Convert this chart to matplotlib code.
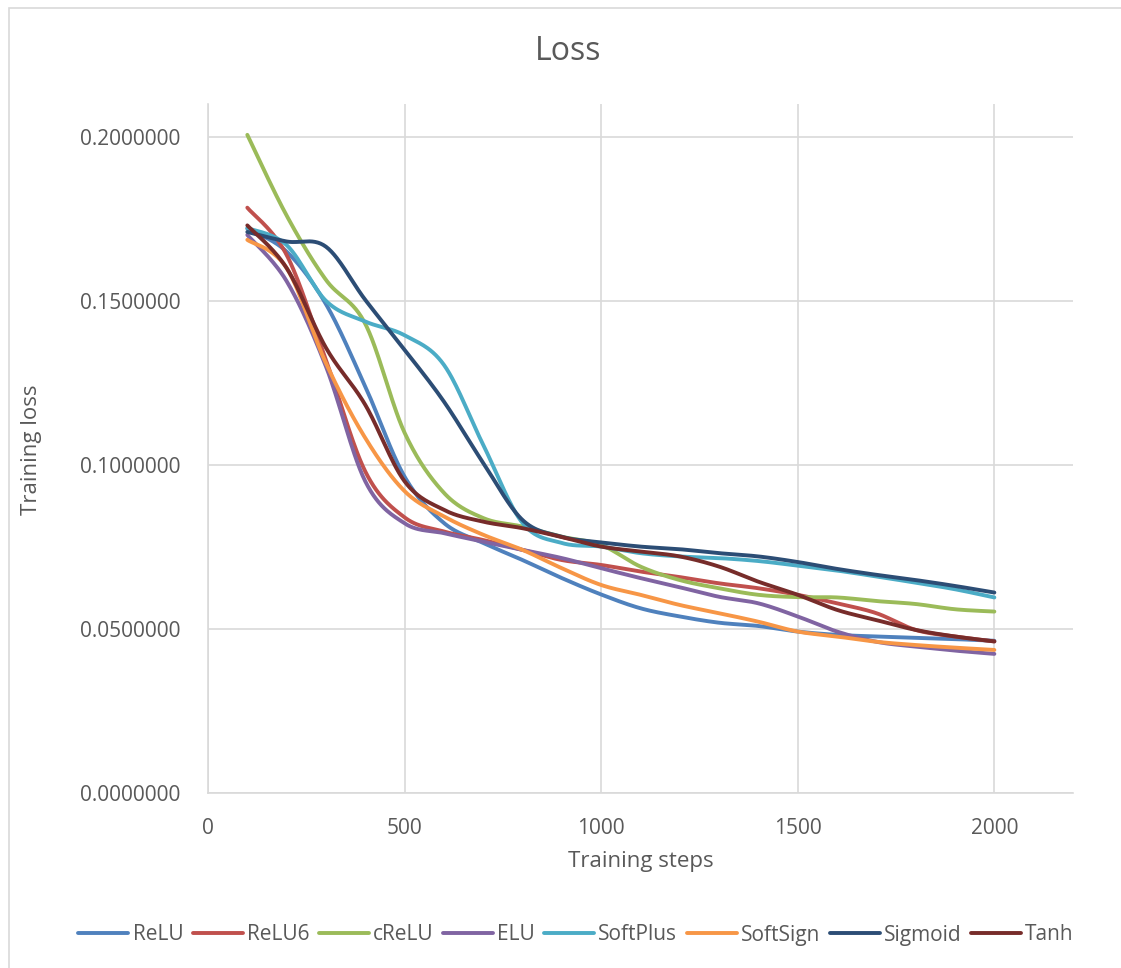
import numpy as np
import matplotlib.pyplot as plt
from matplotlib.patches import Rectangle

steps = [100, 200, 300, 400, 500, 600, 700, 800, 900, 1000,
         1100, 1200, 1300, 1400, 1500, 1600, 1700, 1800, 1900, 2000]

relu = [0.1720, 0.1650, 0.1490, 0.1239, 0.0964, 0.0823, 0.0762, 0.0710, 0.0655, 0.0605,
        0.0563, 0.0538, 0.0519, 0.0509, 0.0492, 0.0482, 0.0477, 0.0473, 0.0469, 0.0464]
relu6 = [0.1784, 0.1640, 0.1320, 0.0980, 0.0840, 0.0797, 0.0771, 0.0741, 0.0710, 0.0695,
         0.0675, 0.0658, 0.0639, 0.0624, 0.0604, 0.0578, 0.0548, 0.0497, 0.0477, 0.0462]
crelu = [0.2006, 0.1760, 0.1564, 0.1430, 0.1098, 0.0915, 0.0838, 0.0812, 0.0781, 0.0756,
         0.0690, 0.0649, 0.0624, 0.0604, 0.0597, 0.0596, 0.0585, 0.0576, 0.0560, 0.0553]
elu = [0.1701, 0.1560, 0.1300, 0.0950, 0.0822, 0.0792, 0.0766, 0.0741, 0.0716, 0.0685,
       0.0655, 0.0627, 0.0598, 0.0578, 0.0538, 0.0492, 0.0461, 0.0446, 0.0434, 0.0424]
softplus = [0.1722, 0.1670, 0.1500, 0.1437, 0.1395, 0.1305, 0.1061, 0.0823, 0.0762, 0.0751,
            0.0731, 0.0721, 0.0716, 0.0707, 0.0693, 0.0678, 0.0660, 0.0641, 0.0621, 0.0596]
softsign = [0.1686, 0.1600, 0.1310, 0.1082, 0.0920, 0.0843, 0.0787, 0.0741, 0.0685, 0.0634,
            0.0604, 0.0573, 0.0548, 0.0522, 0.0492, 0.0477, 0.0461, 0.0451, 0.0443, 0.0436]
sigmoid = [0.1710, 0.1681, 0.1665, 0.1503, 0.1351, 0.1193, 0.1006, 0.0832, 0.0781, 0.0764,
           0.0751, 0.0743, 0.0731, 0.0721, 0.0704, 0.0683, 0.0665, 0.0649, 0.0631, 0.0611]
tanh = [0.1730, 0.1600, 0.1357, 0.1183, 0.0950, 0.0863, 0.0827, 0.0807, 0.0780, 0.0751,
        0.0736, 0.0721, 0.0690, 0.0644, 0.0604, 0.0558, 0.0527, 0.0497, 0.0477, 0.0462]

names = ['ReLU', 'ReLU6', 'cReLU', 'ELU', 'SoftPlus', 'SoftSign', 'Sigmoid', 'Tanh']
series = [relu, relu6, crelu, elu, softplus, softsign, sigmoid, tanh]
colors = ['#4F81BD', '#C0504D', '#9BBB59', '#8064A2',
          '#4BACC6', '#F79646', '#2C4D75', '#772C2A']


def smooth(x, y, n=30):
    # Catmull-Rom style curve through the points, like Excel's smoothed line
    x = np.asarray(x, float)
    y = np.asarray(y, float)
    px = np.concatenate([[x[0]], x, [x[-1]]])
    py = np.concatenate([[y[0]], y, [y[-1]]])
    t = np.linspace(0, 1, n)[:-1]
    xs, ys = [], []
    for i in range(1, len(px) - 2):
        p0, p1, p2, p3 = px[i - 1], px[i], px[i + 1], px[i + 2]
        q0, q1, q2, q3 = py[i - 1], py[i], py[i + 1], py[i + 2]
        c1x, c1y = p1 + (p2 - p0) / 6, q1 + (q2 - q0) / 6
        c2x, c2y = p2 - (p3 - p1) / 6, q2 - (q3 - q1) / 6
        b0, b1, b2, b3 = (1 - t) ** 3, 3 * t * (1 - t) ** 2, 3 * t ** 2 * (1 - t), t ** 3
        xs.append(b0 * p1 + b1 * c1x + b2 * c2x + b3 * p2)
        ys.append(b0 * q1 + b1 * c1y + b2 * c2y + b3 * q2)
    xs.append([x[-1]])
    ys.append([y[-1]])
    return np.concatenate(xs), np.concatenate(ys)


plt.rcParams['font.family'] = ['Open Sans', 'DejaVu Sans']
txt = '#595959'
grid = '#D9D9D9'

fig = plt.figure(figsize=(11.21, 9.68), dpi=100)
ax = fig.add_axes([208 / 1121, 1 - 793 / 968, (1073 - 208) / 1121, (793 - 104) / 968])

for name, vals, c in zip(names, series, colors):
    sx, sy = smooth(steps, vals)
    ax.plot(sx, sy, color=c, lw=2.8, label=name, solid_capstyle='round')

ax.set_xlim(0, 2200)
ax.set_ylim(0, 0.21)
ax.set_xticks([0, 500, 1000, 1500, 2000])
ax.set_yticks([0, 0.05, 0.1, 0.15, 0.2])
ax.set_yticklabels([f'{v:.7f}' for v in [0, 0.05, 0.1, 0.15, 0.2]])
ax.grid(True, color=grid, lw=1.2)
ax.set_axisbelow(True)
for s in ['top', 'right']:
    ax.spines[s].set_visible(False)
ax.spines['left'].set_color(grid)
ax.spines['bottom'].set_color(grid)
ax.spines['left'].set_linewidth(1.2)
ax.spines['bottom'].set_linewidth(1.2)
ax.tick_params(axis='y', length=0, labelsize=15, colors=txt, pad=20)
ax.tick_params(axis='x', length=0, labelsize=15, colors=txt, pad=18)

ax.set_xlabel('Training steps', fontsize=16, color=txt)
ax.set_ylabel('Training loss', fontsize=16, color=txt)
ax.xaxis.set_label_coords(0.5, (793 - 862) / 689, transform=ax.transAxes)
ax.yaxis.set_label_coords((32 - 208) / 865, (793 - 450) / 689, transform=ax.transAxes)
ax.xaxis.label.set_va('center')
ax.yaxis.label.set_va('center')
fig.text(568 / 1121, 1 - 52 / 968, 'Loss', ha='center', va='center', fontsize=23, color=txt)

fig.legend(loc='center', bbox_to_anchor=(576 / 1121, 1 - 935 / 968), ncol=8,
           frameon=False, fontsize=15, handlelength=2.4, handletextpad=0.2,
           columnspacing=0.45, labelcolor=txt)

fig.patches.append(Rectangle((9 / 1121, -0.05), 1.2, 1.05 - 8 / 968, transform=fig.transFigure,
                             fill=False, edgecolor=grid, lw=1.2))

fig.savefig('out.png', dpi=100)
